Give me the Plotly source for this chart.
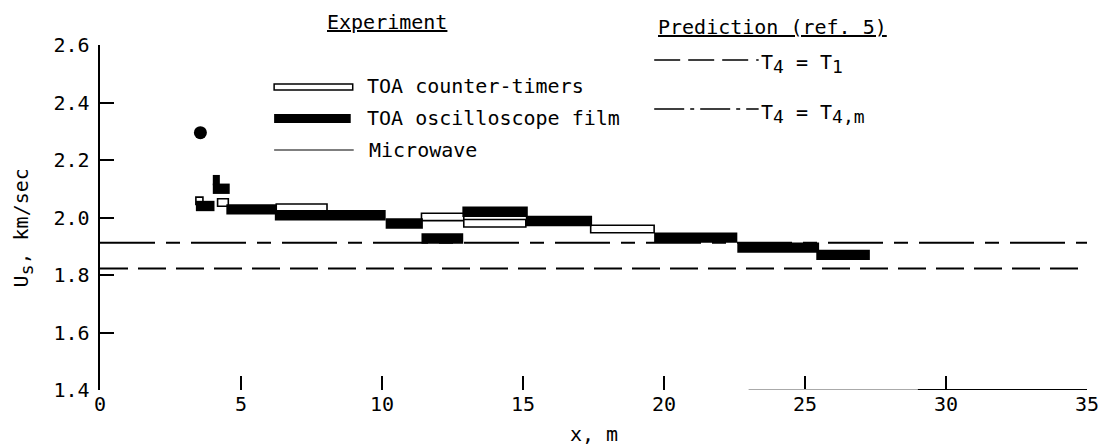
import plotly.graph_objects as go

# ---------------- data ----------------
# TOA counter-timers (open bars): interval start / end (m) and shock velocity (km/sec)
ct_x0 = [3.4, 4.17, 6.25, 11.4, 12.9, 17.4]
ct_x1 = [3.65, 4.55, 8.05, 12.9, 15.1, 19.65]
ct_us = [2.058, 2.052, 2.034, 2.002, 1.98, 1.96]

# TOA oscilloscope film (filled bars)
of_x0 = [3.4, 4.0, 4.0, 4.48, 6.2, 10.13, 11.4, 12.85, 15.1, 19.65, 22.6, 25.4]
of_x1 = [4.06, 4.25, 4.6, 6.25, 10.13, 11.45, 12.88, 15.17, 17.45, 22.6, 25.5, 27.3]
of_us = [2.04, 2.13, 2.10, 2.028, 2.008, 1.979, 1.927, 2.02, 1.988, 1.93, 1.895, 1.87]

# single oscilloscope point
pt_x = [3.56]
pt_us = [2.295]

# predictions (ref. 5)
pred_x = [0, 35]
pred_t1 = [1.823, 1.823]      # T4 = T1
pred_t4m = [1.912, 1.912]     # T4 = T4,m

x_ticks = [0, 5, 10, 15, 20, 25, 30, 35]
y_ticks = [1.4, 1.6, 1.8, 2.0, 2.2, 2.4, 2.6]
y_ticktext = ["1.4", "1.6", "1.8", "2.0", "2.2", "2.4", "2.6"]

# ---------------- figure ----------------
FONT = "DejaVu Sans Mono"
W, H = 1111, 447
ML, MR, MT, MB = 100, 19, 45, 57
PW, PH = W - ML - MR, H - MT - MB


def px(xp):
    return (xp - ML) / PW


def py(yp):
    return (H - MB - yp) / PH


fig = go.Figure()

fig.add_trace(go.Scatter(x=pred_x, y=pred_t4m, mode="lines",
                         line=dict(color="black", width=2, dash="55px,11px,14px,11px"),
                         showlegend=False, hoverinfo="skip"))
fig.add_trace(go.Scatter(x=pred_x, y=pred_t1, mode="lines",
                         line=dict(color="black", width=2, dash="28px,10px"),
                         showlegend=False, hoverinfo="skip"))

fig.add_trace(go.Bar(orientation="h", y=ct_us,
                     x=[b - a for a, b in zip(ct_x0, ct_x1)], base=ct_x0,
                     width=0.026, marker=dict(color="white", line=dict(color="black", width=1.6)),
                     opacity=1, showlegend=False))
fig.add_trace(go.Bar(orientation="h", y=of_us,
                     x=[b - a for a, b in zip(of_x0, of_x1)], base=of_x0,
                     width=0.036, marker=dict(color="black", line=dict(color="black", width=0)),
                     opacity=1, showlegend=False))
fig.add_trace(go.Scatter(x=pt_x, y=pt_us, mode="markers",
                         marker=dict(color="black", size=13, symbol="circle"),
                         showlegend=False))

fig.update_layout(
    width=W, height=H,
    margin=dict(l=ML, r=MR, t=MT, b=MB),
    paper_bgcolor="white", plot_bgcolor="white",
    barmode="overlay",
    font=dict(family=FONT, size=20, color="black"),
    xaxis=dict(range=[0, 35], tickvals=x_ticks, ticks="inside", ticklen=14,
               tickwidth=2, tickcolor="black", showline=False, showgrid=False,
               zeroline=False, tickfont=dict(family=FONT, size=20)),
    yaxis=dict(range=[1.4, 2.6], tickvals=y_ticks, ticktext=y_ticktext,
               ticks="inside", ticklen=14, tickwidth=2, tickcolor="black",
               showline=True, linecolor="black", linewidth=2.5, showgrid=False,
               zeroline=False, tickfont=dict(family=FONT, size=20),
               ticklabelstandoff=4),
)

# faded x-axis line (only the right part survives in the original scan)
fig.add_shape(type="line", xref="x", yref="y", x0=23, x1=29, y0=1.4, y1=1.4,
              line=dict(color="#aaaaaa", width=2))
fig.add_shape(type="line", xref="x", yref="y", x0=29, x1=35, y0=1.4, y1=1.4,
              line=dict(color="black", width=2))

# legend samples
fig.add_shape(type="rect", xref="paper", yref="paper", x0=px(275), x1=px(354),
              y0=py(90), y1=py(84), line=dict(color="black", width=1.5), fillcolor="white")
fig.add_shape(type="rect", xref="paper", yref="paper", x0=px(275), x1=px(352),
              y0=py(123), y1=py(114), line=dict(color="black", width=0), fillcolor="black")
fig.add_shape(type="line", xref="paper", yref="paper", x0=px(275), x1=px(355),
              y0=py(150), y1=py(150), line=dict(color="black", width=1.2))
fig.add_shape(type="line", xref="paper", yref="paper", x0=px(657), x1=px(762),
              y0=py(60), y1=py(60), line=dict(color="black", width=1.5, dash="26px,8px"))
fig.add_shape(type="line", xref="paper", yref="paper", x0=px(657), x1=px(762),
              y0=py(109), y1=py(109), line=dict(color="black", width=1.5, dash="30px,6px,4px,6px"))


def ann(text, xp, yp, xanchor="left", angle=0):
    fig.add_annotation(text=text, xref="paper", yref="paper", x=px(xp), y=py(yp),
                       xanchor=xanchor, yanchor="middle", showarrow=False,
                       textangle=angle, font=dict(family=FONT, size=20, color="black"))


SUB = "<sub><span style='font-size:18px'>%s</span></sub>"

ann("<u>Experiment</u>", 388, 22, xanchor="center")
ann("<u>Prediction (ref. 5)</u>", 659, 27)
ann("TOA counter-timers", 366, 86)
ann("TOA oscilloscope film", 366, 118)
ann("Microwave", 368, 150)
ann("T" + SUB % "4" + " = T" + SUB % "1", 762, 63)
ann("T" + SUB % "4" + " = T" + SUB % "4,m", 762, 113)
ann("U" + SUB % "s" + ", km/sec", 22, 228, xanchor="center", angle=-90)
ann("x, m", 597, 434, xanchor="center")

fig.write_html("out.html",
               config={"displayModeBar": False, "staticPlot": True},
               post_script="document.body.style.margin='0';document.body.style.overflow='hidden';")
